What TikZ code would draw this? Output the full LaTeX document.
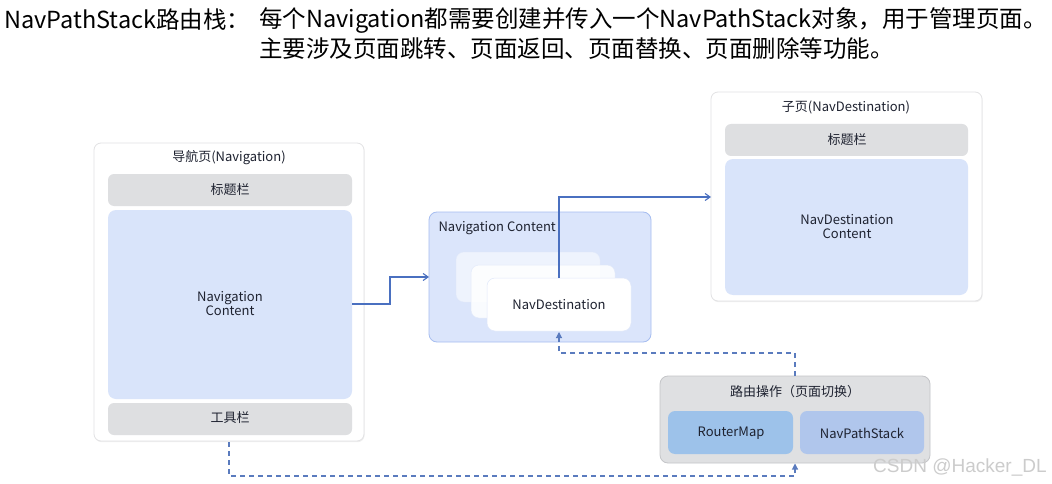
\documentclass[tikz,border=0pt]{standalone}
\usepackage{fontspec}
\setmainfont{Noto Sans CJK SC}
\newfontfamily\markfont{Liberation Sans}
\usetikzlibrary{arrows.meta,shadows}
\definecolor{linkblue}{HTML}{4A70C0}
\definecolor{dashblue}{HTML}{5A7BBE}
\definecolor{bargray}{HTML}{DEDFE1}
\definecolor{contentblue}{HTML}{D9E4FA}
\definecolor{framegray}{HTML}{E2E2E4}
\definecolor{holdblue}{HTML}{DBE5FB}
\definecolor{holdedge}{HTML}{A6BDF0}
\definecolor{routergray}{HTML}{DFE0E2}
\definecolor{routeredge}{HTML}{C4C5C8}
\definecolor{mapblue}{HTML}{9DC2EA}
\definecolor{stackblue}{HTML}{B0C6EC}
\definecolor{inktext}{HTML}{1E2230}
\tikzset{
  pagebox/.style={draw=framegray, line width=0.8pt, fill=white, rounded corners=7pt,
    drop shadow={shadow xshift=0.6pt, shadow yshift=-1.2pt, opacity=0.12}},
  barbox/.style={fill=bargray, rounded corners=6pt},
  contentbox/.style={fill=contentblue, rounded corners=8pt},
  cardbox/.style={fill=white, draw=holdedge!35, line width=0.5pt, rounded corners=8pt},
  lbl/.style={font=\fontsize{13}{16}\selectfont, text=inktext, align=center},
  headtext/.style={anchor=west, font=\fontsize{23.5}{29}\selectfont, text=black, inner sep=0},
  flow/.style={draw=linkblue, line width=1.1pt, -{Straight Barb[length=5pt,width=7pt]}},
  backflow/.style={draw=dashblue, line width=1.1pt, dash pattern=on 5pt off 4pt,
    -{Triangle[length=6pt,width=6pt]}},
}
\begin{document}
\begin{tikzpicture}[x=1pt,y=-1pt]
\useasboundingbox (0,0) rectangle (1052,484);
\fill[white] (0,0) rectangle (1052,484);

% heading
\node[headtext] (head) at (4,20) {NavPathStack路由栈：};
\node[headtext] (line1) at (259,20) {每个Navigation都需要创建并传入一个NavPathStack对象，用于管理页面。};
\node[headtext] (line2) at (259,49) {主要涉及页面跳转、页面返回、页面替换、页面删除等功能。};

% navigation page
\path[pagebox] (94,143) rectangle (364,441);
\node[lbl] (navtitle) at (229,158) {导航页(Navigation)};
\path[barbox] (108,174) rectangle (352,206);
\node[lbl] (navbar) at (230,190) {标题栏};
\path[contentbox] (108,210) rectangle (352,399);
\node[lbl] (navcontent) at (230,304) {Navigation\\[-2pt]Content};
\path[barbox] (108,403) rectangle (352,435);
\node[lbl] (navtool) at (230,418) {工具栏};
\coordinate (navright) at (352,304);
\coordinate (navbottom) at (229,442);

% navigation content holder with stacked destinations
\path[fill=holdblue, draw=holdedge, line width=0.8pt, rounded corners=8pt] (429,212) rectangle (651,342);
\node[lbl, anchor=west] (holdtitle) at (435,228) {Navigation Content};
\coordinate (holdleft) at (429,277);
\path[cardbox, opacity=0.55] (456,252) rectangle (600,302);
\path[cardbox, opacity=0.85] (471,265) rectangle (615,318);
\path[cardbox] (487,278) rectangle (631,331);
\node[lbl] (dest) at (559,305) {NavDestination};
\coordinate (desttop) at (559,278);
\coordinate (destbottom) at (559,332);

% child page
\path[pagebox] (711,92) rectangle (982,301);
\node[lbl] (subtitle) at (846,107) {子页(NavDestination)};
\path[barbox] (725,124) rectangle (968,156);
\node[lbl] (subbar) at (847,140) {标题栏};
\path[contentbox] (725,159) rectangle (968,295);
\node[lbl] (subcontent) at (847,227) {NavDestination\\[-2pt]Content};
\coordinate (subleft) at (711,197);

% routing operations
\path[fill=routergray, draw=routeredge, line width=0.8pt, rounded corners=8pt] (660,376) rectangle (930,463);
\node[lbl] (routetitle) at (795,392) {路由操作（页面切换）};
\path[fill=mapblue, rounded corners=7pt] (668,411) rectangle (793,454);
\node[lbl] (routermap) at (731,433) {RouterMap};
\path[fill=stackblue, rounded corners=7pt] (800,411) rectangle (924,454);
\node[lbl] (navstack) at (862,433) {NavPathStack};
\coordinate (routetop) at (795,376);
\coordinate (routebottom) at (795,463.5);

% connectors
\draw[flow] (navright) -- (390,304) -- (390,277) -- (holdleft);
\draw[flow] (desttop) -- (559,197) -- (subleft);
\draw[backflow] (routetop) -- (795,353) -- (559,353) -- (destbottom);
\draw[backflow] (navbottom) -- (229,476) -- (795,476) -- (routebottom);

% watermark
\node[anchor=west, font=\markfont\fontsize{19}{22}\selectfont, text=gray!40, inner sep=0] (mark) at (873,467) {CSDN @Hacker\_DL};
\end{tikzpicture}
\end{document}
